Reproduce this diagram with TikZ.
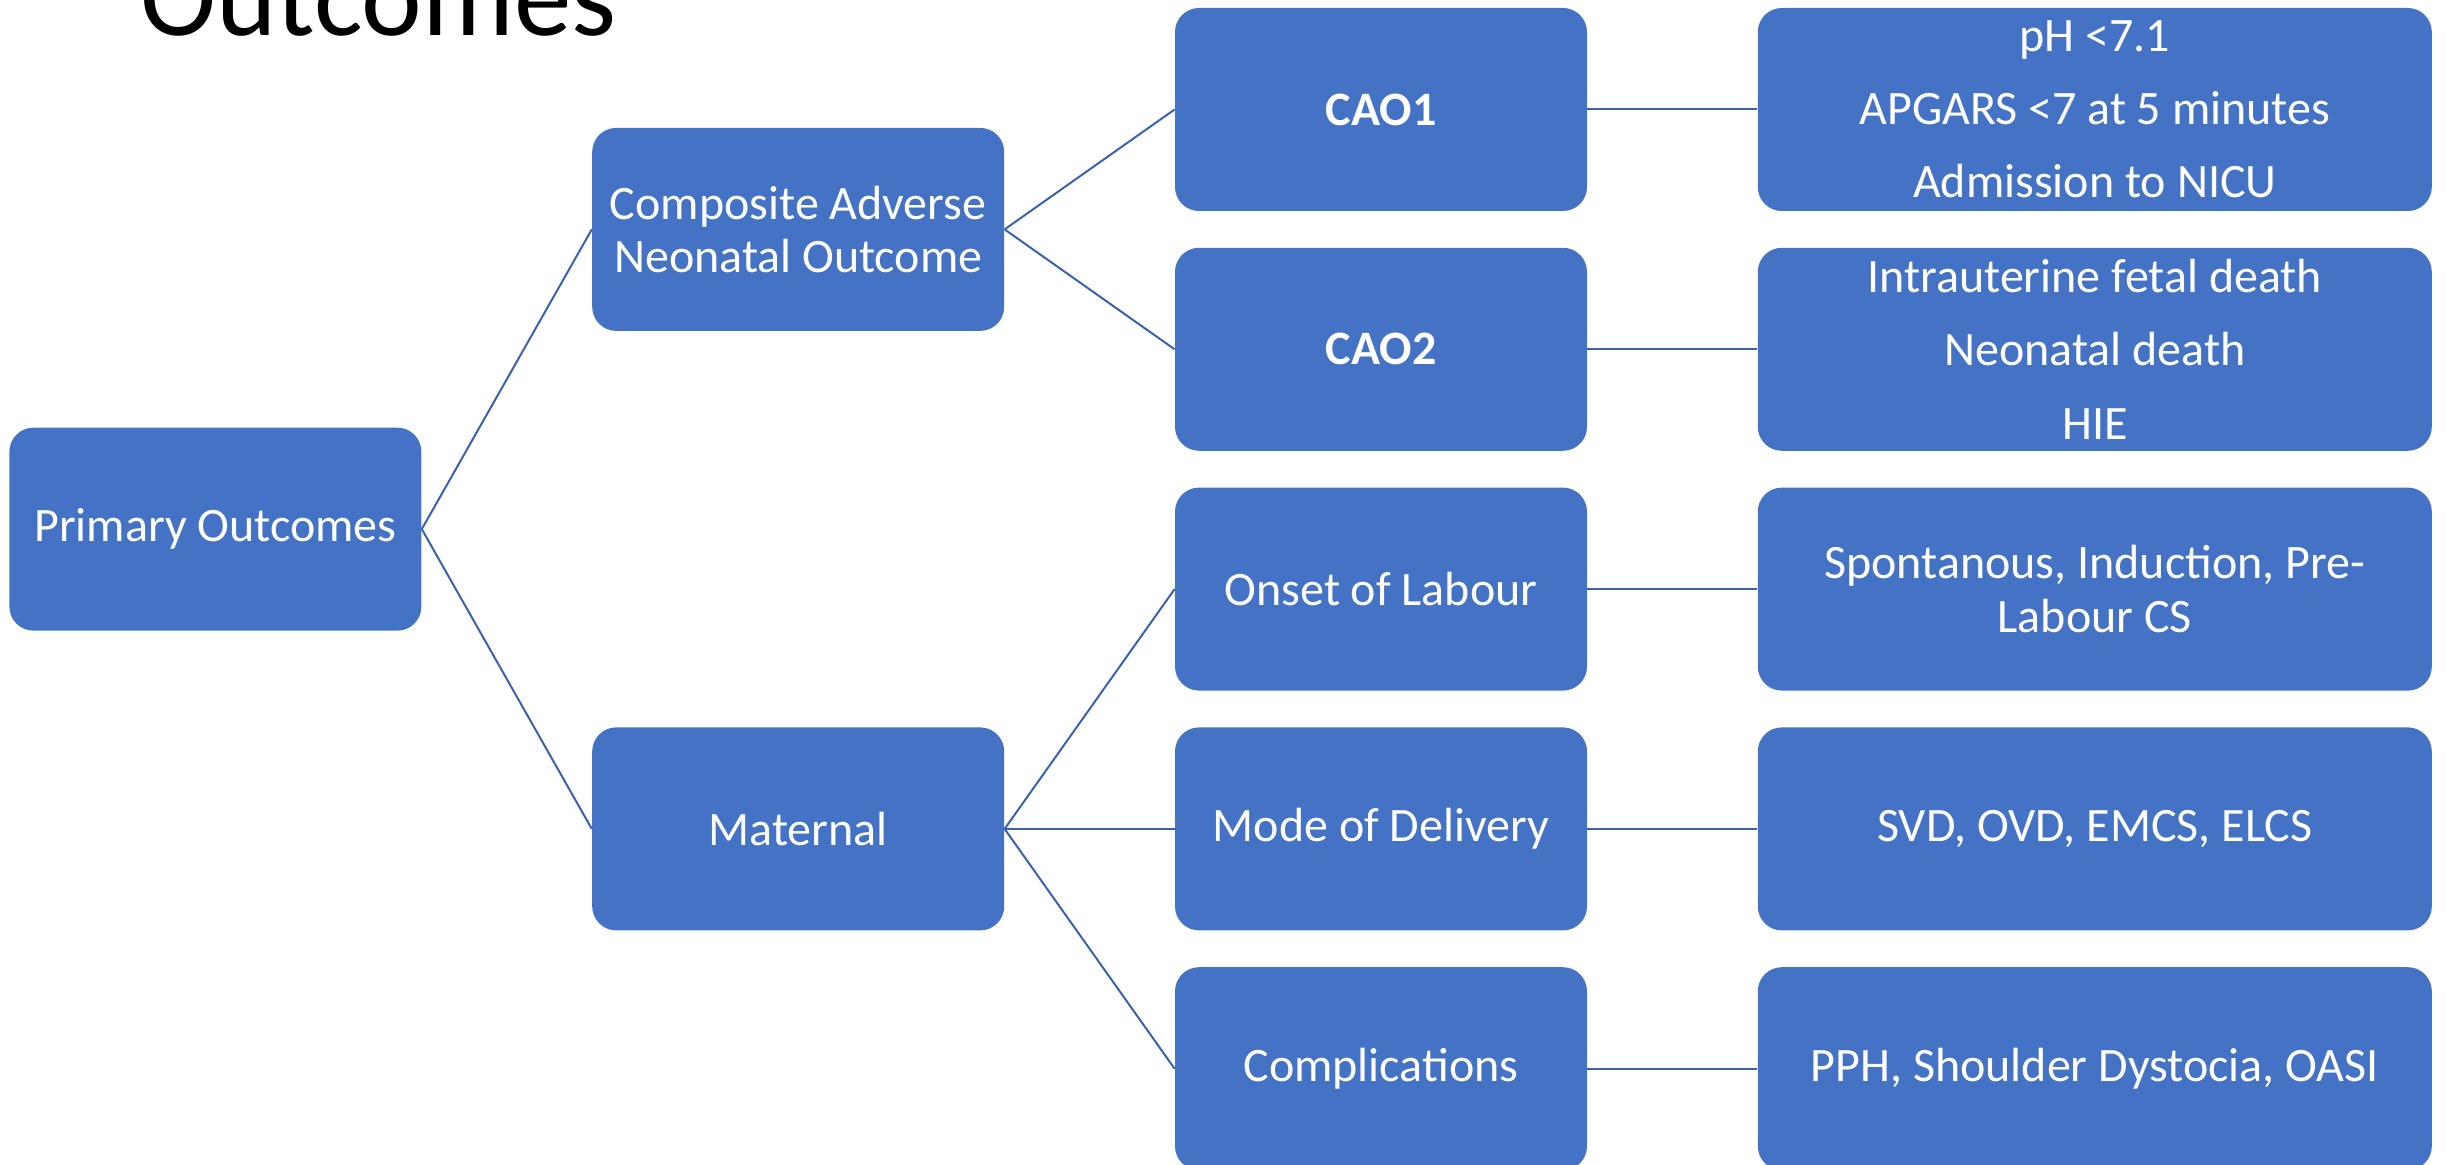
\documentclass[tikz,border=0pt]{standalone}
\usepackage{fontspec}
\setmainfont{Carlito}
\usepackage{xcolor}
\usepackage{tikz}
\usetikzlibrary{positioning}
\definecolor{boxblue}{HTML}{4472C4}
\definecolor{lineblue}{HTML}{3862AE}
\tikzset{
  box/.style={rectangle, rounded corners=12pt, fill=boxblue, minimum width=206pt, minimum height=101.5pt, align=center, text=white, inner sep=2pt, font=\fontsize{24}{26.6}\selectfont},
  wide/.style={box, minimum width=337pt},
  listbox/.style={wide, font=\fontsize{24}{36.6}\selectfont},
  link/.style={draw=lineblue, line width=1pt}
}

\begin{document}
\begin{tikzpicture}[node distance=18pt and 85pt]
  \useasboundingbox (0,0) rectangle (1223.5pt,-582.5pt);
  % title, cut at the top edge
  \node[anchor=base west, inner sep=0pt, font=\fontsize{57.5}{60}\selectfont] (title) at (70pt,-18pt) {Outcomes};
  % third column
  \node[box] (cao1) at (690.5pt,-54.75pt) {\textbf{CAO1}};
  \node[box, below=of cao1] (cao2) {\textbf{CAO2}};
  \node[box, below=of cao2] (onset) {Onset of Labour};
  \node[box, below=of onset] (mode) {Mode of Delivery};
  \node[box, below=of mode] (compl) {Complications};
  % details on the right
  \node[listbox, right=of cao1] (cao1list) {pH {<}7.1\\APGARS {<}7 at 5 minutes\\Admission to NICU};
  \node[listbox, right=of cao2] (cao2list) {Intrauterine fetal death\\Neonatal death\\HIE};
  \node[wide, right=of onset] (onsetlist) {Spontanous, Induction, Pre-\\Labour CS};
  \node[wide, right=of mode] (modelist) {SVD, OVD, EMCS, ELCS};
  \node[wide, right=of compl] (compllist) {PPH, Shoulder Dystocia, OASI};
  % second and first column
  \path (cao1.west) -- coordinate[midway] (upmid) (cao2.west);
  \node[box, left=of upmid] (canmo) {Composite Adverse\\Neonatal Outcome};
  \node[box, left=of mode] (maternal) {Maternal};
  \path (canmo.west) -- coordinate[midway] (rootmid) (maternal.west);
  \node[box, left=of rootmid] (primary) {Primary Outcomes};
  \draw[link] (primary.east) -- (canmo.west);
  \draw[link] (primary.east) -- (maternal.west);
  \draw[link] (canmo.east) -- (cao1.west);
  \draw[link] (canmo.east) -- (cao2.west);
  \draw[link] (maternal.east) -- (onset.west);
  \draw[link] (maternal.east) -- (mode.west);
  \draw[link] (maternal.east) -- (compl.west);
  \draw[link] (cao1) -- (cao1list);
  \draw[link] (cao2) -- (cao2list);
  \draw[link] (onset) -- (onsetlist);
  \draw[link] (mode) -- (modelist);
  \draw[link] (compl) -- (compllist);
\end{tikzpicture}
\end{document}
